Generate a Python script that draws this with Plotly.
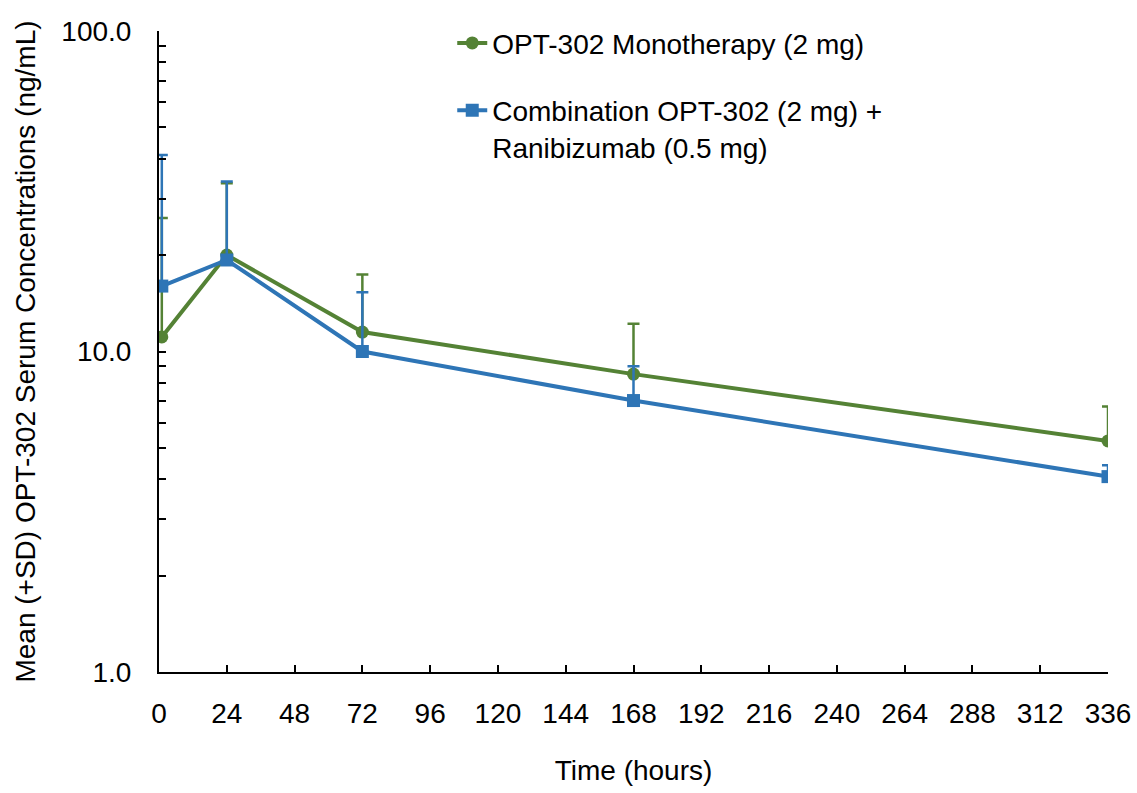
import plotly.graph_objects as go

# Data
time_mono = [1, 24, 72, 168, 336]
mean_mono = [11.1, 20.0, 11.5, 8.5, 5.26]
upper_mono = [26.1, 33.5, 17.4, 12.2, 6.73]

time_comb = [1, 24, 72, 168, 336]
mean_comb = [16.0, 19.3, 10.0, 7.03, 4.07]
upper_comb = [41.0, 33.9, 15.3, 9.0, 4.42]

x_ticks = list(range(0, 337, 24))
y_tickvals = [1, 10, 100]
y_ticktext = ["1.0", "10.0", "100.0"]
y_minor = [2, 3, 4, 5, 6, 7, 8, 9, 20, 30, 40, 50, 60, 70, 80, 90]

GREEN = "#548235"
BLUE = "#2E75B6"
FONT = "Liberation Sans, Arial, sans-serif"

fig = go.Figure()

fig.add_trace(go.Scatter(
    x=time_mono, y=mean_mono, mode="lines+markers",
    name="OPT-302 Monotherapy (2 mg)", legendgroup="a",
    line=dict(color=GREEN, width=4),
    marker=dict(symbol="circle", size=13, color=GREEN),
    error_y=dict(type="data", symmetric=False,
                 array=[u - m for u, m in zip(upper_mono, mean_mono)],
                 arrayminus=[0] * len(mean_mono),
                 color=GREEN, thickness=2.5, width=6),
))
fig.add_trace(go.Scatter(
    x=time_comb, y=mean_comb, mode="lines+markers",
    name="Combination OPT-302 (2 mg) +<br>Ranibizumab (0.5 mg)", legendgroup="b",
    line=dict(color=BLUE, width=4),
    marker=dict(symbol="square", size=13, color=BLUE),
    error_y=dict(type="data", symmetric=False,
                 array=[u - m for u, m in zip(upper_comb, mean_comb)],
                 arrayminus=[0] * len(mean_comb),
                 color=BLUE, thickness=2.5, width=6),
))

fig.update_layout(
    width=1137, height=793,
    margin=dict(l=159, r=29, t=31, b=121),
    paper_bgcolor="white", plot_bgcolor="white",
    font=dict(family=FONT, size=28, color="black"),
    showlegend=True,
    legend=dict(x=0.309, y=1.02, xanchor="left", yanchor="top",
                bgcolor="rgba(0,0,0,0)", tracegroupgap=28, valign="top",
                font=dict(size=28)),
)

fig.update_xaxes(
    range=[0, 336], tickvals=x_ticks, ticks="inside", ticklen=7, tickwidth=2,
    tickcolor="black", showline=True, linecolor="black", linewidth=2,
    showgrid=False, zeroline=False, ticklabelstandoff=15, automargin=False,
    title=dict(text="Time (hours)", standoff=33, font=dict(size=28)),
)
fig.update_yaxes(
    type="log", range=[0, 2], tickvals=y_tickvals, ticktext=y_ticktext,
    ticks="inside", ticklen=7, tickwidth=2, tickcolor="black",
    showline=True, linecolor="black", linewidth=2,
    showgrid=False, zeroline=False, ticklabelstandoff=20, automargin=False,
    minor=dict(tickvals=y_minor, ticks="inside", ticklen=7, tickwidth=2,
               tickcolor="black", showgrid=False),
    title=dict(text="Mean (+SD) OPT-302 Serum Concentrations (ng/mL)", standoff=18,
               font=dict(size=28)),
)

fig.write_html("out.html")
